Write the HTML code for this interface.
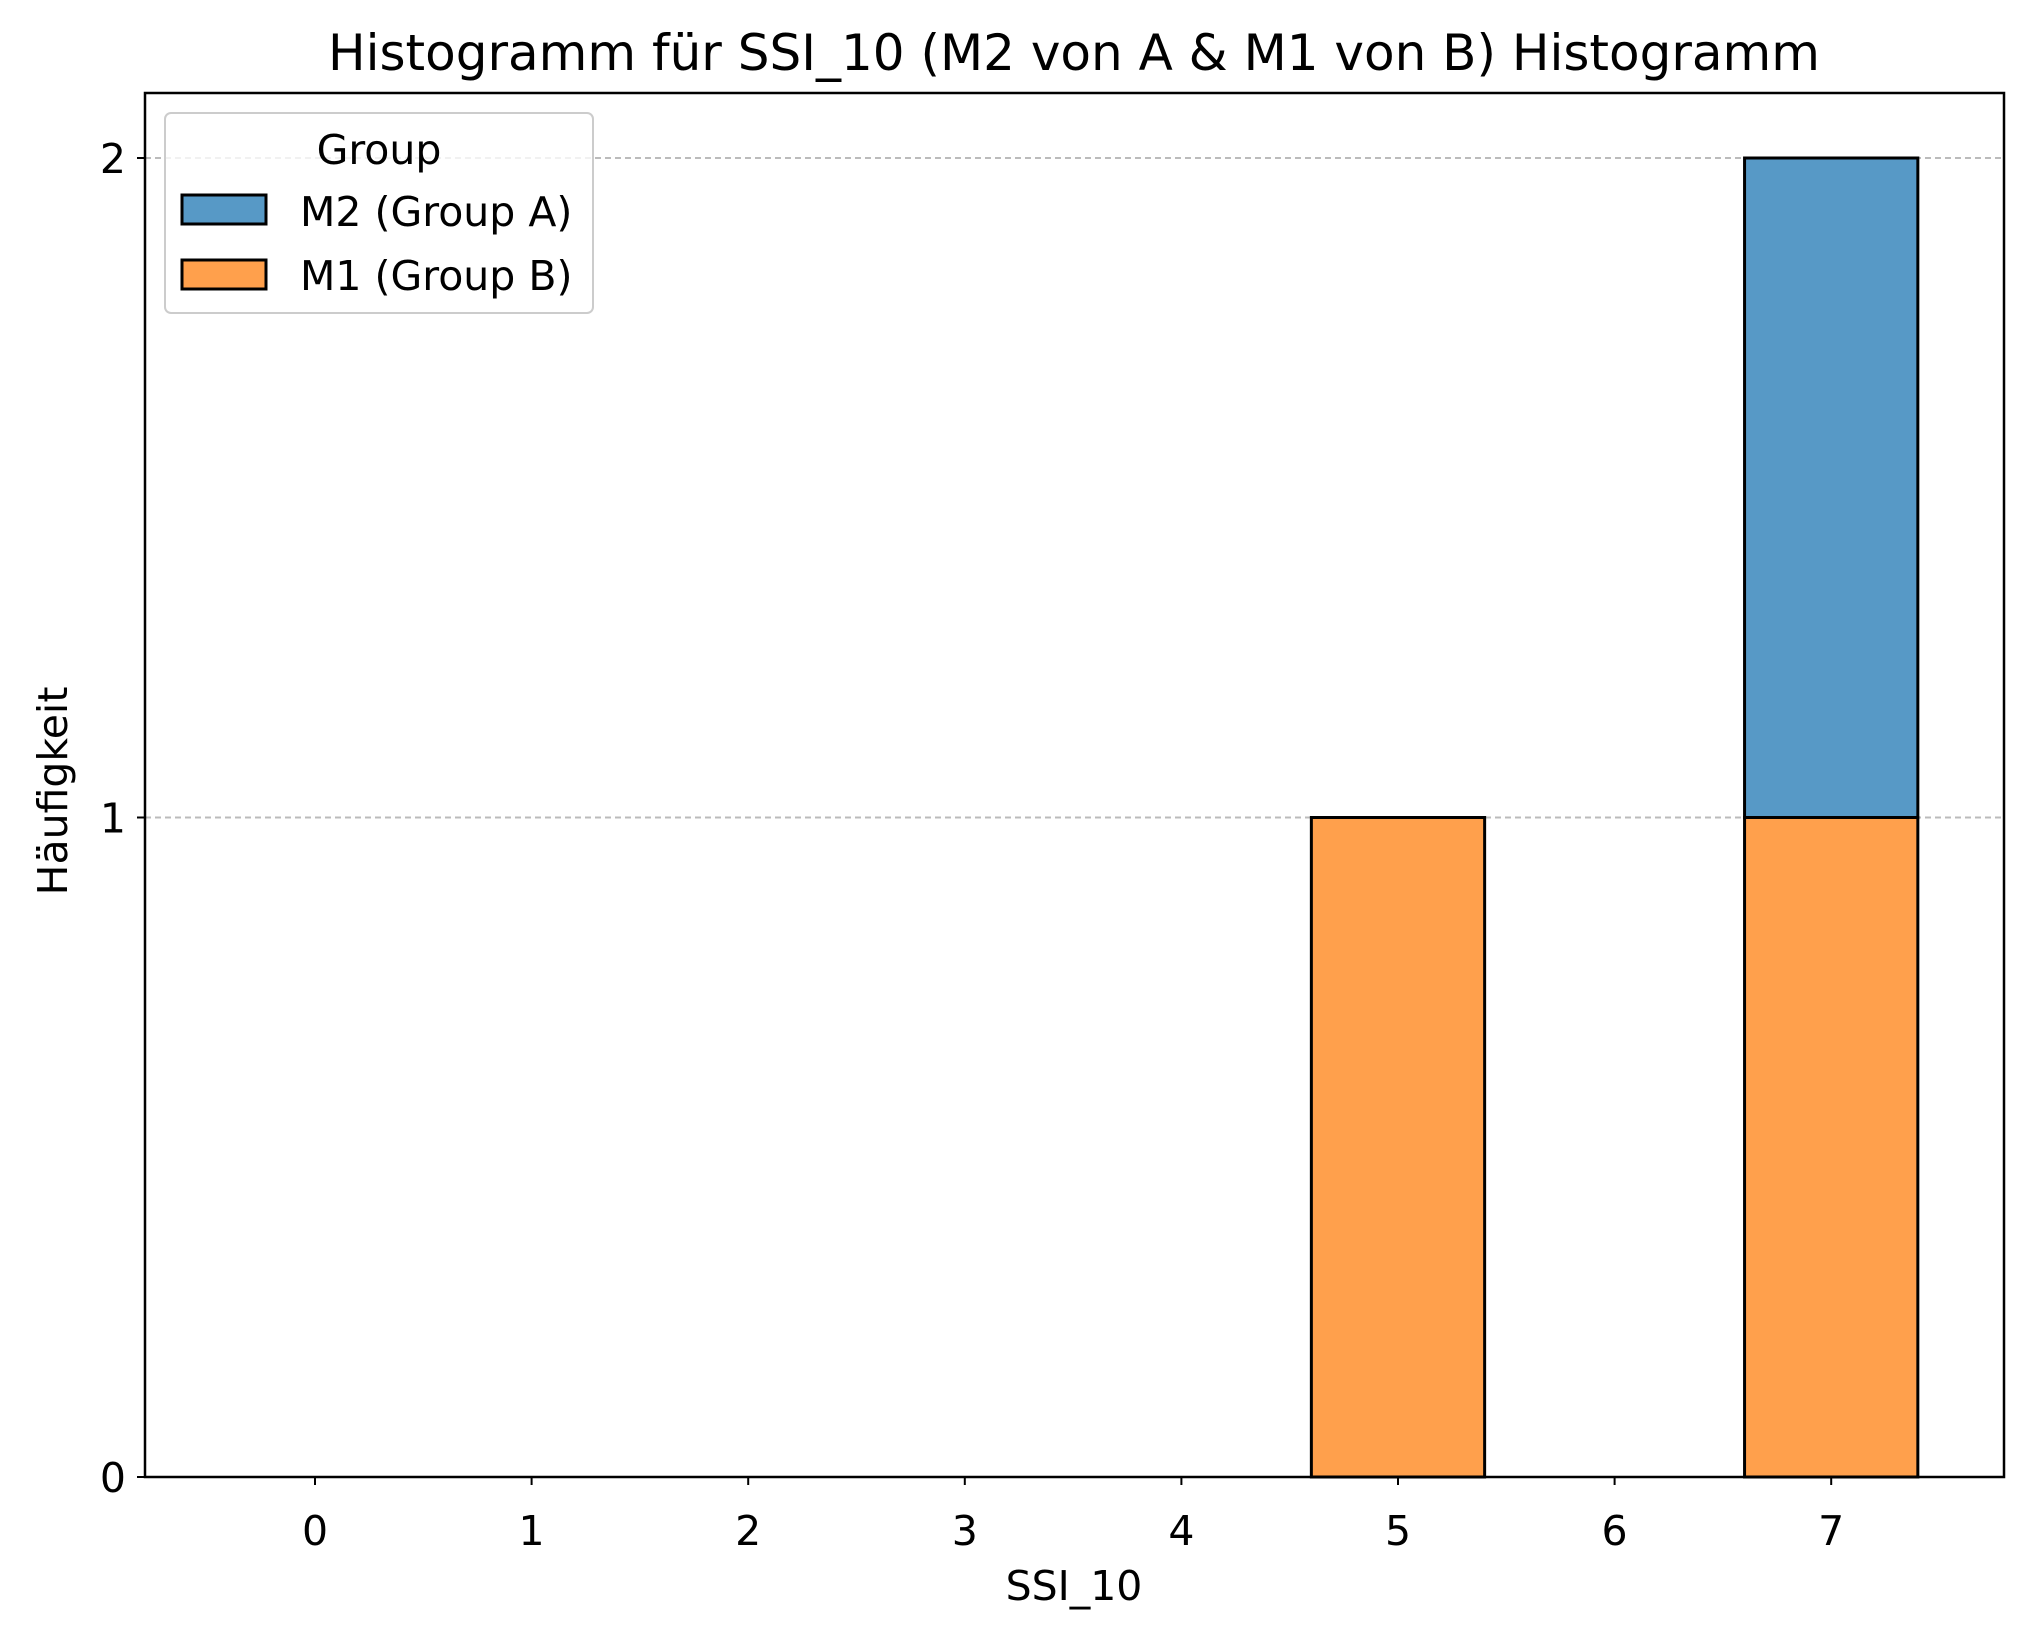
<!DOCTYPE html>
<html><head><meta charset="utf-8"><style>
body{margin:0;background:#fff}
svg text{font-family:"DejaVu Sans","Liberation Sans",sans-serif;fill:#000}
</style></head><body>
<svg id="chart" width="2034" height="1638" xmlns="http://www.w3.org/2000/svg">
<rect width="2034" height="1638" fill="#fff"/>
<text x="1074" y="70" font-size="50" text-anchor="middle">Histogramm für SSI_10 (M2 von A &amp; M1 von B) Histogramm</text>
<g id="grid"></g>
<g id="bars"></g>
<rect x="145" y="93" width="1859" height="1384" fill="none" stroke="#000" stroke-width="2.5"/>
<g id="xticks"></g>
<g id="yticks"></g>
<text x="1074" y="1600" font-size="41" text-anchor="middle">SSI_10</text>
<text x="0" y="0" font-size="41" text-anchor="middle" transform="translate(67,791) rotate(-90)">Häufigkeit</text>
<g>
<rect x="165" y="113" width="428" height="200" rx="6" fill="#fff" fill-opacity="0.8" stroke="#ccc" stroke-width="2"/>
<text x="379" y="164" font-size="41" text-anchor="middle">Group</text>
<rect x="182" y="195" width="84" height="29" fill="#5799c6" stroke="#000" stroke-width="3"/>
<text x="300" y="226" font-size="41">M2 (Group A)</text>
<rect x="182" y="260" width="84" height="29" fill="#ffa04c" stroke="#000" stroke-width="3"/>
<text x="300" y="290" font-size="41">M1 (Group B)</text>
</g>
</svg>
<script>
const categories=[0,1,2,3,4,5,6,7];
const m1Values=[0,0,0,0,0,1,0,1];
const m2Values=[0,0,0,0,0,0,0,1];
const yTicks=[0,1,2];
const NS="http://www.w3.org/2000/svg";
const x=v=>315+(v-0)*216.6;
const y=v=>1477-v*659.5;
const bw=0.8*216.6;
function mk(tag,attrs,parent){const e=document.createElementNS(NS,tag);for(const k in attrs)e.setAttribute(k,attrs[k]);document.getElementById(parent).appendChild(e);return e;}
yTicks.forEach(t=>{
  if(t>0){const g=mk('line',{x1:145,x2:2004,y1:y(t),y2:y(t),stroke:'#bbb','stroke-width':2,'stroke-dasharray':'6,4'},'grid');
  
  }
  const l=mk('line',{x1:137,x2:145,y1:y(t),y2:y(t),stroke:'#000','stroke-width':2},'yticks');
  
  
  const tx=mk('text',{x:126,y:y(t)+15,'font-size':41,'text-anchor':'end'},'yticks');tx.textContent=t;
  
  
});
categories.forEach((c,i)=>{
  const l=mk('line',{x1:x(c),x2:x(c),y1:1477,y2:1485,stroke:'#000','stroke-width':2},'xticks');
  
  
  const tx=mk('text',{x:x(c),y:1545,'font-size':41,'text-anchor':'middle'},'xticks');tx.textContent=c;
  
  
  const b1=mk('rect',{x:x(c)-bw/2,y:y(m1Values[i]),width:bw,height:y(0)-y(m1Values[i]),fill:'#ffa04c',stroke:'#000','stroke-width':3},'bars');
  
  
  const b2=mk('rect',{x:x(c)-bw/2,y:y(m1Values[i]+m2Values[i]),width:bw,height:y(m1Values[i])-y(m1Values[i]+m2Values[i]),fill:'#5799c6',stroke:'#000','stroke-width':3},'bars');
  
  
});
</script>
</body></html>
